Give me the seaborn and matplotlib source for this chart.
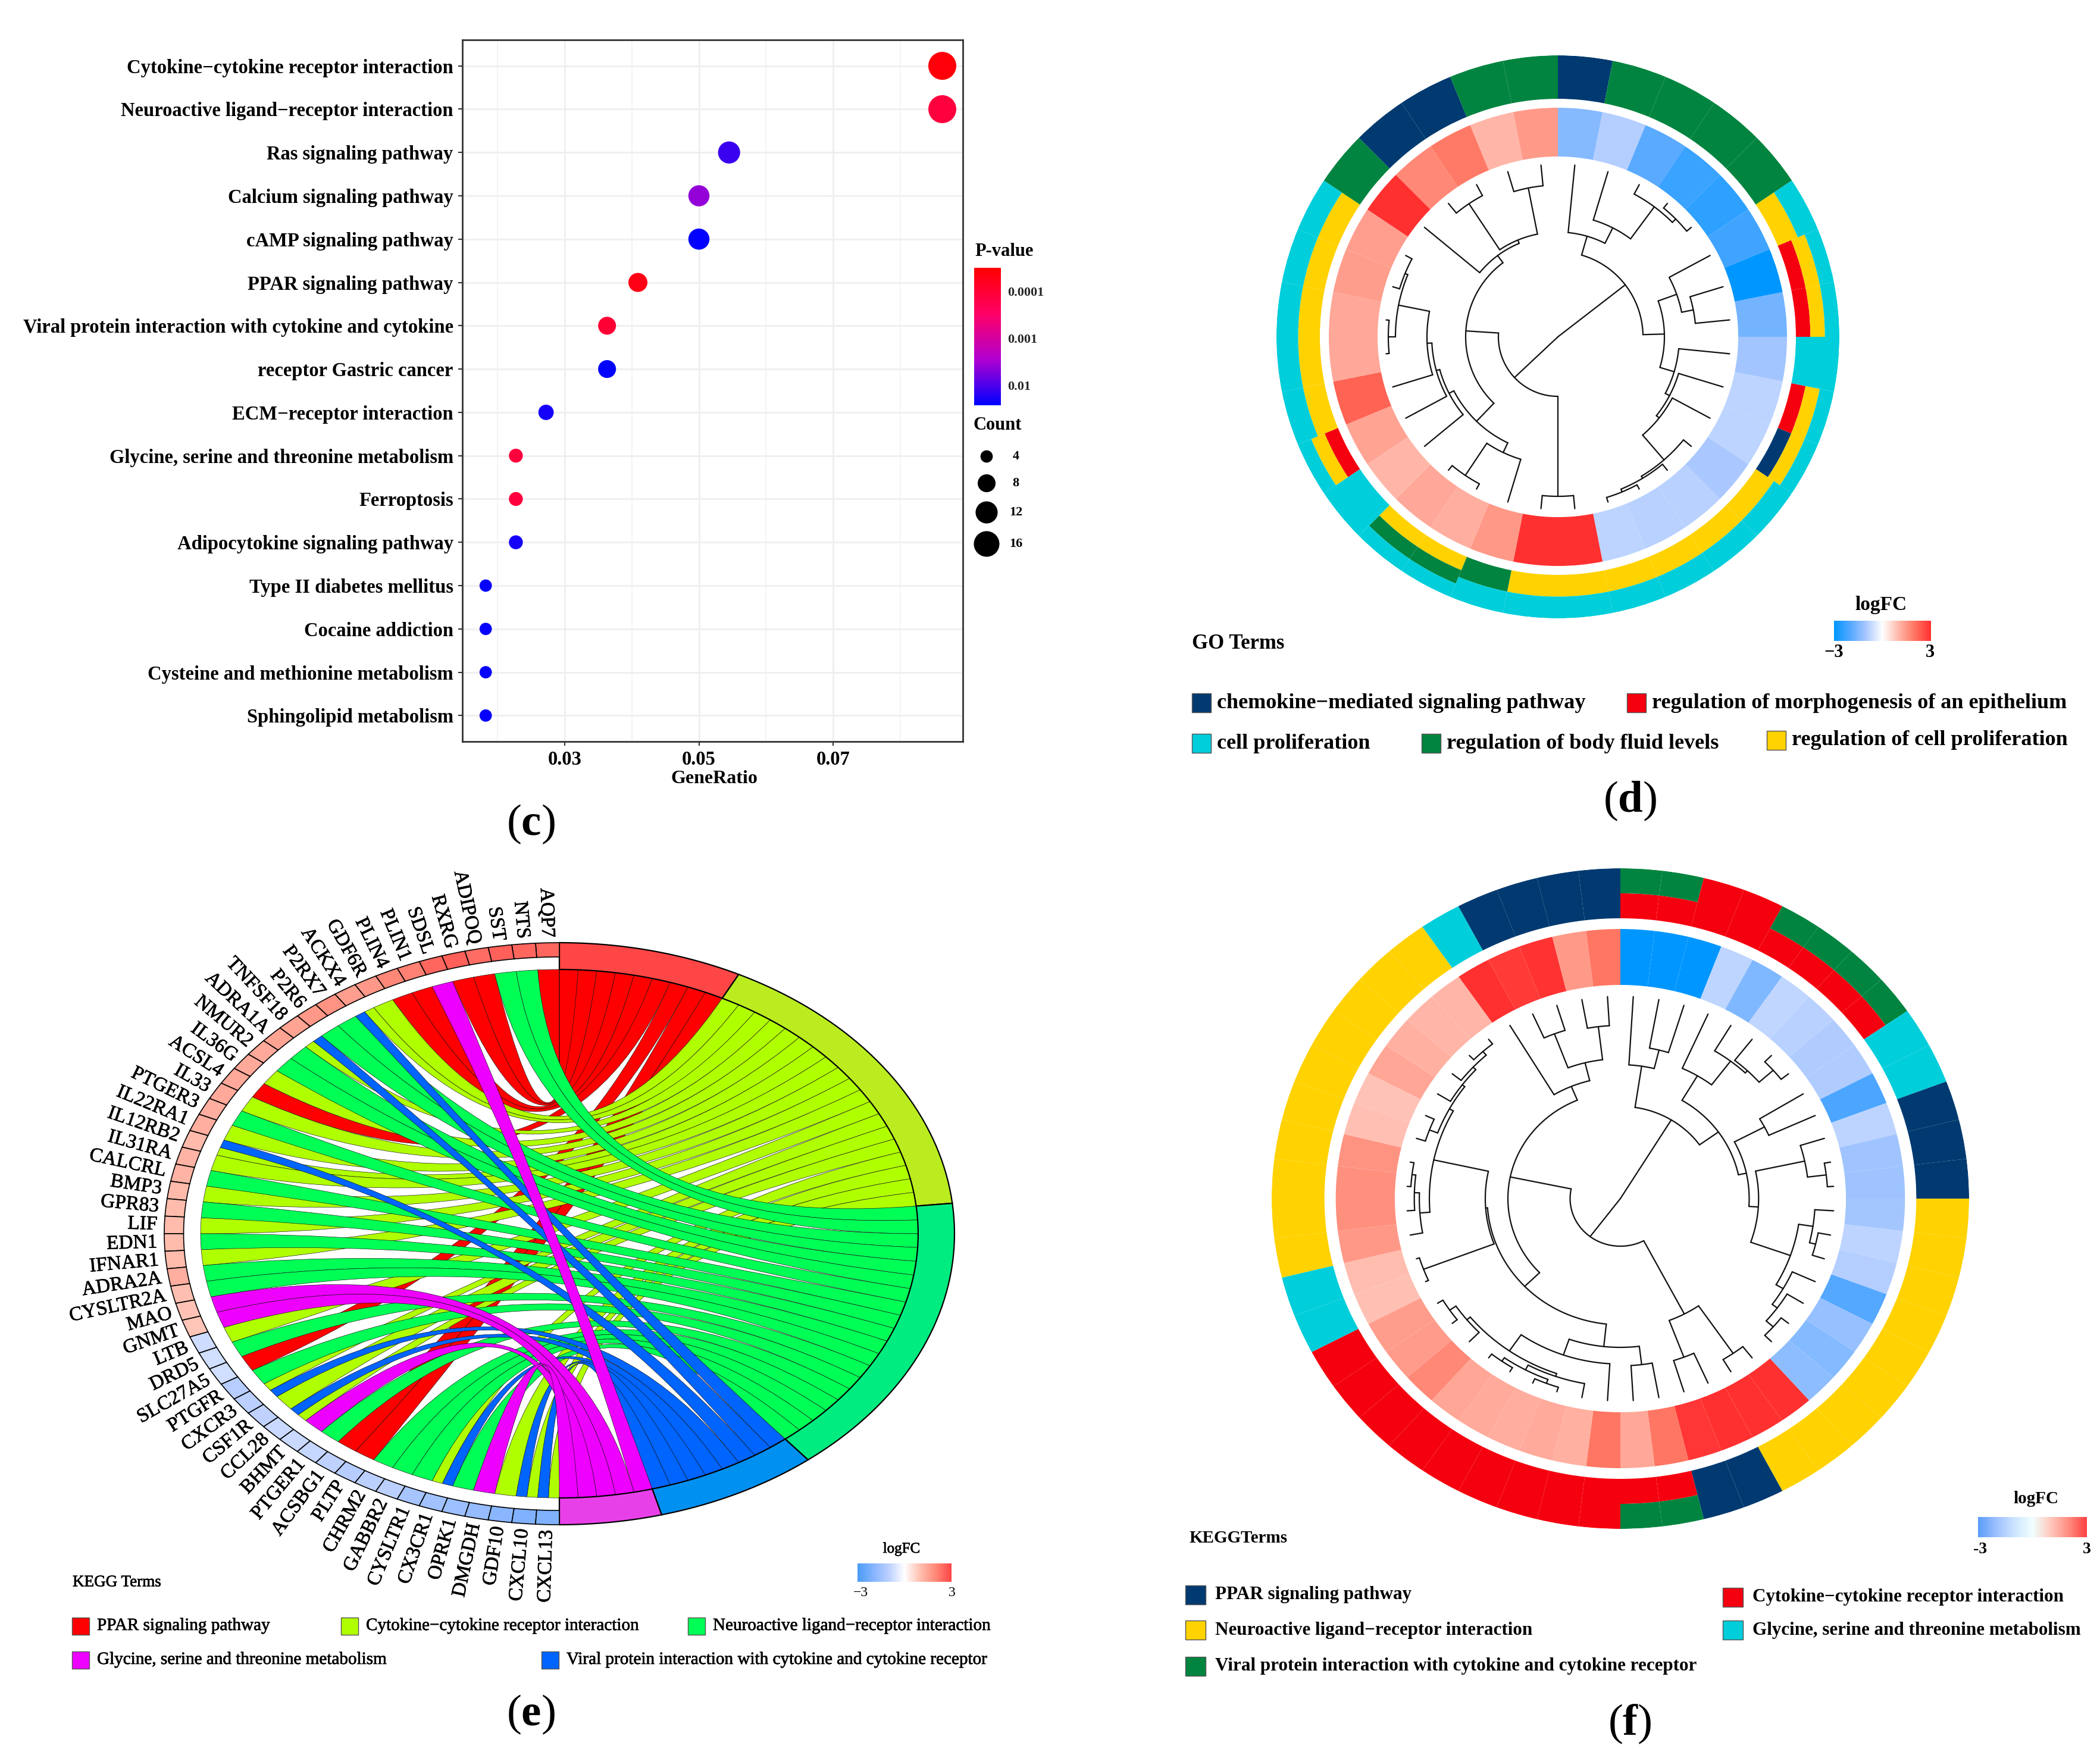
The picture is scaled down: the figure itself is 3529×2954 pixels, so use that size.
# %%
import numpy as np
import pandas as pd
import seaborn as sns
import matplotlib.pyplot as plt
import matplotlib.patheffects as pe
from matplotlib.cm import ScalarMappable
from matplotlib.colors import Normalize
from matplotlib.patches import PathPatch, Rectangle
from matplotlib.path import Path

W, H = 3530, 2954

# %%
# (c) KEGG bubble plot
terms_c = ["Cytokine\u2212cytokine receptor interaction", "Neuroactive ligand\u2212receptor interaction",
           "Ras signaling pathway", "Calcium signaling pathway", "cAMP signaling pathway",
           "PPAR signaling pathway", "Viral protein interaction with cytokine and cytokine",
           "receptor Gastric cancer", "ECM\u2212receptor interaction",
           "Glycine, serine and threonine metabolism", "Ferroptosis", "Adipocytokine signaling pathway",
           "Type II diabetes mellitus", "Cocaine addiction", "Cysteine and methionine metabolism",
           "Sphingolipid metabolism"]
gene_ratio = [0.0863, 0.0863, 0.0545, 0.05, 0.05, 0.0409, 0.0363, 0.0363, 0.0272, 0.0227, 0.0227, 0.0227,
              0.0182, 0.0182, 0.0182, 0.0182]
counts_c = [19, 19, 12, 11, 11, 9, 8, 8, 6, 5, 5, 5, 4, 4, 4, 4]
log_p = [-4.4, -3.9, -1.9, -2.4, -1.6, -4.3, -4.0, -1.6, -1.7, -3.9, -3.9, -1.7, -1.62, -1.62, -1.62, -1.62]

# (d) GO circular heatmap, clockwise from the top
logfc_d = [-1.42, -0.87, -1.94, -2.3, -2.46, -2.25, -3, -1.64, -1.08, -0.79, -0.79, -1.0, -0.83, -0.83, -0.79, 3,
           3, 1.46, 1.14, 1.23, 1.03, 1.29, 2.23, 1.23, 1.23, 1.39, 1.36, 3, 1.7, 1.9, 1.03, 1.43]
terms_d = ["N", "G", "G", "G", "G", "YC", "RYC", "RYC", "C", "RYC", "NYC", "YC", "YC", "YC", "YC", "YC",
           "YC", "GC", "YGC", "YGC", "C", "RYC", "YC", "YC", "YC", "YC", "YC", "G", "N", "N", "G", "G"]
tree_d = (0,
          (143,
           (176, 0, (205, 1, (272, 2, (280, 3, 4)))),
           (179,
            (212, 5, (232, 6, 7)),
            (204, 8, (212, 9, (218, 10, (273, 11, (277, 12, (282, 13, 14)))))))),
          (100,
           (268, 15, 16),
           (155,
            (197,
             (215, 17, (280, 18, 19)),
             (206, 20, (212, 21, (220, 22, (273, (285, 23, 24), (278, 25, 26)))))),
            (170, 27, (176, (269, 28, 29), (255, 30, 31))))))

# (f) KEGG circular heatmap, clockwise from the top
logfc_f = [-3, -3, -3, -0.76, -1.49, -0.75, -0.83, -0.93, -0.93, -2.1, -0.79, -1.12, -1.13,
           -1.07, -0.79, -0.88, -2.0, -1.23, -1.44, -1.32, 3, 3, 3, 2.9, 1.96, 1.23,
           1.96, 1.12, 1.2, 1.16, 1.2, 1.25, 1.69, 1.41, 1.39, 0.88, 0.93, 1.46, 1.58,
           1.58, 1.54, 0.91, 0.85, 1.25, 1.12, 1.03, 1.03, 3, 2.85, 2.95, 1.43, 1.96]
terms_f = ["RG", "RG", "R", "R", "RG", "RG", "RG", "RG", "C", "C", "N", "N", "N",
           "Y", "Y", "Y", "Y", "Y", "Y", "Y", "Y", "Y", "N", "N", "RG", "RG",
           "R", "R", "R", "R", "R", "R", "R", "R", "R", "C", "C", "Y", "Y",
           "Y", "Y", "Y", "Y", "Y", "Y", "Y", "Y", "C", "N", "N", "N", "N"]
tree_f = (0,
          (155,
           (225, 0, (257, 1, 2)),
           (192,
            (240, 3, (290, 4, (295, 5, (325, 6, 7)))),
            (205,
             (259, 8, 9),
             (220,
              (300, 10, (330, 11, 12)),
              (287,
               (310, 13, (320, 14, 15)),
               (300, 16, (310, 17, (325, 18, 19)))))))),
          (80,
           (219, (316, 20, 21), (285, 22, 23)),
           (179,
            (212,
             (250,
              (281, 24, 25),
              (278, 26,
               (311,
                (316, 27, (325, (332, 28, 29), (332, 30, 31))),
                (318, 32, (330, 33, 34))))),
             (215,
              (335, 35, 36),
              (304,
               (320, 37, (328, 38, (334, 39, 40))),
               (311, (325, 41, 42), (316, 43, (322, 44, (330, 45, 46))))))),
            (204, 47, (235, (296, 48, 49), (291, 50, 51))))))

# (e) chord diagram, genes anticlockwise from the top
genes_e = ["AQP7", "NTS", "SST", "ADIPOQ", "RXRG", "SDSL", "PLIN1", "PLIN4", "GDF6R", "ACKX4", "P2RX7", "P2R6",
           "TNFSF18", "ADRA1A", "NMUR2", "IL36G", "ACSL4", "IL33", "PTGER3", "IL22RA1", "IL12RB2", "IL31RA",
           "CALCRL", "BMP3", "GPR83", "LIF", "EDN1", "IFNAR1", "ADRA2A", "CYSLTR2A", "MAO", "GNMT", "LTB", "DRD5",
           "SLC27A5", "PTGFR", "CXCR3", "CSF1R", "CCL28", "BHMT", "PTGER1", "ACSBG1", "PLTP", "CHRM2", "GABBR2",
           "CYSLTR1", "CX3CR1", "OPRK1", "DMGDH", "GDF10", "CXCL10", "CXCL13"]
logfc_e = [2.5, 2.5, 2.6, 2.4, 2.6, 2.5, 2.1, 2.0, 1.7, 1.6, 1.8, 1.7, 1.5, 1.5, 1.4, 1.4, 1.4, 1.4, 1.3, 1.3,
           1.1, 1.2, 1.2, 1.1, 1.05, 1.05, 1.05, 1.05, 1.3, 1.0, 0.95, 0.9,
           -0.75, -0.7, -0.7, -1.1, -1.0, -0.95, -0.8, -0.8, -0.85, -0.95, -1.1, -1.0, -1.0, -1.4, -1.5, -1.6,
           -1.7, -1.9, -2.1, -2.1]
links_e = ["P", "N", "N", "P", "P", "G", "P", "P", "C", "CV", "N", "N",
           "VC", "N", "N", "C", "P", "C", "N", "C", "VC", "C",
           "N", "C", "N", "C", "N", "C", "N", "N", "G", "G", "C", "N",
           "P", "N", "CV", "C", "VC", "G", "N", "P", "P", "N", "N",
           "N", "CV", "N", "G", "C", "VC", "VC"]
term_order_e = ["P", "C", "N", "V", "G"]

# legends
go_terms = ["chemokine\u2212mediated signaling pathway", "regulation of morphogenesis of an epithelium",
            "cell proliferation", "regulation of body fluid levels", "regulation of cell proliferation"]
kegg_terms = ["PPAR signaling pathway", "Cytokine\u2212cytokine receptor interaction",
              "Neuroactive ligand\u2212receptor interaction", "Glycine, serine and threonine metabolism",
              "Viral protein interaction with cytokine and cytokine receptor"]

ring_colors = {"N": "#003A70", "G": "#00843F", "C": "#00CEDB", "Y": "#FFD200", "R": "#F5000F"}
link_colors = {"P": "#FF0000", "C": "#B0FF00", "N": "#00FF55", "V": "#0064FF", "G": "#EE00FF"}
sector_colors = {"P": "#FF4646", "C": "#BAEC20", "N": "#00EC80", "V": "#0090F0", "G": "#E840E8"}

# %%
sns.set_theme(style="white")
plt.rcParams["font.family"] = ["Liberation Serif", "DejaVu Serif"]
plt.rcParams["mathtext.fontset"] = "custom"
plt.rcParams["mathtext.rm"] = "Liberation Serif"
plt.rcParams["mathtext.bf"] = "Liberation Serif:bold"

fig = plt.figure(figsize=(W / 100, H / 100), dpi=100, facecolor="white")


def px_axes(x, y, w, h, **kw):
    return fig.add_axes([x / W, 1 - (y + h) / H, w / W, h / H], **kw)


# overlay in pixel coordinates for all the free text and swatches
top = px_axes(0, 0, W, H, zorder=10)
top.set_xlim(0, W)
top.set_ylim(H, 0)
top.axis("off")
top.patch.set_alpha(0)

heavier = [pe.withStroke(linewidth=0.5, foreground="black")]


def label(x, y, s, size=26, weight="bold", ha="left", thick=False):
    t = top.text(x, y, s, fontsize=size, fontweight=weight, ha=ha, va="center", color="black")
    if thick:
        t.set_path_effects(heavier)


def swatch(x, y, w, h, color):
    top.add_patch(Rectangle((x, y - h / 2), w, h, facecolor=color, edgecolor="#555555", lw=1))


def gradient_bar(x, y, w, h, cmap):
    cax = px_axes(x, y, w, h)
    cb = fig.colorbar(ScalarMappable(Normalize(-3, 3), cmap), cax=cax, orientation="horizontal")
    cb.set_ticks([])
    cb.outline.set_visible(False)


def panel_letter(x, y, letter):
    top.text(x, y, "($\\mathbf{" + letter + "}$)", fontsize=54, ha="center", va="center", color="black")


logfc_cmap = sns.blend_palette(["#0096FF", "#55A8FF", "#AAC8FF", "#FFFFFF", "#FFB8AA", "#FF7460", "#FF3030"],
                               as_cmap=True)
logfc_cmap_e = sns.blend_palette(["#4A9CF5", "#86B4FF", "#BCD0FF", "#FFFFFF", "#FFBFB0", "#FF8878", "#FF4545"],
                                 as_cmap=True)
logfc_cmap_f = sns.blend_palette(["#5A9CF8", "#9CC0FF", "#CCE4FF", "#F0FFFF", "#FFC8BE", "#FF8C80", "#FF4040"],
                                 as_cmap=True)
pvalue_cmap = sns.blend_palette(["#FF0000", "#FF0066", "#B000D0", "#0000FF"], as_cmap=True)

# %%
# Panel c
df_c = pd.DataFrame({"Term": terms_c, "GeneRatio": gene_ratio, "Count": counts_c, "logP": log_p})
ax = px_axes(777, 67, 841, 1179)
ax.set_axisbelow(True)
sns.scatterplot(data=df_c, x="GeneRatio", y="Term", hue="logP", size="Count", palette=pvalue_cmap,
                hue_norm=(-4.5, -1.58), sizes=(222, 1145), size_norm=(4, 19), linewidth=0, legend=False,
                ax=ax, zorder=3)
ax.set_xlim(0.01472, 0.08936)
ax.set_ylim(15.6, -0.6)
ax.set_xticks([0.03, 0.05, 0.07])
ax.set_xticklabels(["0.03", "0.05", "0.07"])
ax.set_xticks([0.02, 0.04, 0.06, 0.08], minor=True)
ax.grid(True, which="major", color="#EFEFEF", lw=2.0)
ax.grid(True, which="minor", axis="x", color="#F3F3F3", lw=1.3)
ax.tick_params(axis="both", which="major", length=5, width=1.5, color="#333333", bottom=True, left=True,
               labelsize=23.5, pad=6)
ax.tick_params(axis="x", which="minor", length=0)
for t in ax.get_xticklabels() + ax.get_yticklabels():
    t.set_fontweight("bold")
    t.set_color("black")
ax.set_xlabel("")
ax.set_ylabel("")
for s in ax.spines.values():
    s.set_visible(True)
    s.set_color("#333333")
    s.set_linewidth(2.0)

label(1200, 1309, "GeneRatio", size=23, ha="center")
label(1638, 423, "P-value", size=22)
cax = px_axes(1637, 450, 45, 231)
cb = fig.colorbar(ScalarMappable(Normalize(-4.5, -1.58), pvalue_cmap), cax=cax)
cax.invert_yaxis()
cb.set_ticks([-4, -3, -2])
cb.set_ticklabels(["0.0001", "0.001", "0.01"])
cb.outline.set_visible(False)
cax.tick_params(length=6, width=1, color="white", direction="in", labelsize=16, pad=8)
for t in cax.get_yticklabels():
    t.set_fontweight("bold")

label(1636, 715, "Count", size=22)
leg_counts = [4, 8, 12, 16]
ax_leg = px_axes(1630, 740, 56, 200)
df_leg = pd.DataFrame({"x": [0, 0, 0, 0], "y": [27, 72, 121, 174], "Count": leg_counts})
sns.scatterplot(data=df_leg, x="x", y="y", size="Count", sizes=(222, 1145), size_norm=(4, 19), color="black",
                linewidth=0, legend=False, ax=ax_leg)
ax_leg.set_xlim(-1, 1)
ax_leg.set_ylim(200, 0)
ax_leg.axis("off")
for yy, c in zip([767, 812, 861, 914], leg_counts):
    label(1707, yy, str(c), size=16, ha="center")
panel_letter(892, 1385, "c")


# %%
# Helpers for the circular heatmaps
def draw_tree(ax, node, n, leaf_r):
    # node is (height, left, right), a plain int is a leaf
    if isinstance(node, int):
        return (node + 0.5) * 2 * np.pi / n, leaf_r
    r, left, right = node
    kids = [draw_tree(ax, k, n, leaf_r) for k in (left, right)]
    th = np.linspace(kids[0][0], kids[1][0], 60)
    ax.plot(th, np.full(60, r), color="#111111", lw=1.6, solid_capstyle="round")
    for kid_th, kid_r in kids:
        ax.plot([kid_th, kid_th], [r, kid_r], color="#111111", lw=1.6, solid_capstyle="round")
    return th.mean(), r


def ring_heatmap(cx, cy, rx, ry, values, terms, tree, radii, cmap):
    track_out, track_in, heat_out, heat_in, leaf_r = radii
    pax = px_axes(cx - rx, cy - ry, 2 * rx, 2 * ry, projection="polar")
    pax.set_aspect("auto")
    pax.set_theta_zero_location("N")
    pax.set_theta_direction(-1)
    n = len(values)
    step = 2 * np.pi / n
    norm = Normalize(-3, 3)
    for i, (v, t) in enumerate(zip(values, terms)):
        pax.bar(i * step, heat_out - heat_in, width=step, bottom=heat_in, align="edge",
                color=cmap(norm(v)), lw=0)
        part = (track_out - track_in) / len(t)
        for j, code in enumerate(t):
            pax.bar(i * step, part, width=step, bottom=track_in + j * part, align="edge",
                    color=ring_colors[code], lw=0)
    draw_tree(pax, tree, n, leaf_r)
    pax.set_ylim(0, track_out)
    pax.axis("off")
    return pax


# %%
# Panel d
ring_heatmap(2618, 566, 473, 473, logfc_d, terms_d, tree_d, (473, 400, 385, 303, 290), logfc_cmap)
label(3161, 1016, "logFC", size=24, ha="center")
gradient_bar(3082, 1043, 163, 34, logfc_cmap)
label(3082, 1097, "\u22123", size=22, ha="center")
label(3243, 1097, "3", size=22, ha="center")
label(2003, 1082, "GO Terms", size=25)
for x, y, term, code in [(2003, 1181, go_terms[0], "N"), (2734, 1181, go_terms[1], "R"),
                         (2003, 1249, go_terms[2], "C"), (2389, 1249, go_terms[3], "G"),
                         (2969, 1244, go_terms[4], "Y")]:
    swatch(x, y, 32, 32, ring_colors[code])
    label(x + 42, y, term, size=26)
panel_letter(2739, 1346, "d")

# %%
# Panel f
ring_heatmap(2723, 2014, 586, 555, logfc_f, terms_f, tree_f, (555, 471, 453, 359, 340), logfc_cmap)
label(3421, 2518, "logFC", size=21, ha="center")
gradient_bar(3324, 2549, 183, 34, logfc_cmap_f)
label(3328, 2603, "-3", size=20, ha="center")
label(3507, 2603, "3", size=20, ha="center")
label(1999, 2585, "KEGGTerms", size=21)
for x, y, term, code in [(1992, 2680, kegg_terms[0], "N"), (2895, 2684, kegg_terms[1], "R"),
                         (1992, 2739, kegg_terms[2], "Y"), (2895, 2739, kegg_terms[3], "C"),
                         (1992, 2800, kegg_terms[4], "G")]:
    swatch(x, y, 34, 32, ring_colors[code])
    label(x + 50, y, term, size=22.4)
panel_letter(2739, 2897, "f")

# %%
# Panel e, the chord diagram lives in unit coordinates stretched to an ellipse
cx_e, cy_e, rx_e, ry_e = 940, 2073, 664, 489
ax_e = px_axes(cx_e - rx_e * 1.02, cy_e - ry_e * 1.02, 2.04 * rx_e, 2.04 * ry_e)
ax_e.set_xlim(-1.02, 1.02)
ax_e.set_ylim(-1.02, 1.02)
ax_e.axis("off")


def pol(r, deg):
    # degrees clockwise from the top, negative values go anticlockwise
    a = np.radians(deg)
    return np.column_stack([r * np.sin(a), r * np.cos(a)])


def ring_piece(ax, r0, r1, d0, d1, color, lw=1.0):
    th = np.linspace(d0, d1, 40)
    xy = np.vstack([pol(r1, th), pol(r0, th[::-1])])
    ax.fill(xy[:, 0], xy[:, 1], facecolor=color, edgecolor="black", lw=lw, zorder=5)


def ribbon(ax, g0, g1, t0, t1, color):
    # g0 pairs with t0 and g1 with t1, otherwise the band twists in the middle
    r = 0.908
    gene_arc = pol(r, np.linspace(g1, g0, 12))
    term_arc = pol(r, np.linspace(t0, t1, 12))
    verts = list(map(tuple, gene_arc)) + [(0, 0), tuple(term_arc[0])] + list(map(tuple, term_arc[1:])) + \
        [(0, 0), tuple(gene_arc[0]), tuple(gene_arc[0])]
    codes = [Path.MOVETO] + [Path.LINETO] * 11 + [Path.CURVE3, Path.CURVE3] + [Path.LINETO] * 11 + \
        [Path.CURVE3, Path.CURVE3, Path.CLOSEPOLY]
    ax.add_patch(PathPatch(Path(verts, codes), facecolor=color, edgecolor="#111111", lw=0.45))


n_genes = len(genes_e)
gene_step = 180 / n_genes
n_links = sum(len(s) for s in links_e)
link_step = 180 / n_links
norm_e = Normalize(-3, 3)

# term sectors on the right half
term_start = {}
start = 0.0
for code in term_order_e:
    cnt = sum(s.count(code) for s in links_e)
    term_start[code] = start
    ring_piece(ax_e, 0.908, 1.0, start, start + cnt * link_step, sector_colors[code], lw=1.6)
    start += cnt * link_step

# ribbons are drawn term by term so later terms lie on top
for code in term_order_e:
    pos = term_start[code]
    for i, s in enumerate(links_e):
        if code not in s:
            continue
        k = s.index(code)
        part = gene_step / len(s)
        g0 = -(i * gene_step + k * part)
        ribbon(ax_e, g0, g0 - part, pos, pos + link_step, link_colors[code])
        pos += link_step

# gene sectors and names on the left half
for i, (g, v) in enumerate(zip(genes_e, logfc_e)):
    ring_piece(ax_e, 0.951, 1.0, -i * gene_step, -(i + 1) * gene_step, logfc_cmap_e(norm_e(v)), lw=1.2)
    mid = (i + 0.5) * gene_step
    p = pol(1.018, -mid)[0]
    t = ax_e.text(p[0], p[1], g, rotation=mid - 90, rotation_mode="anchor", ha="right", va="center",
                  fontsize=24, color="black", zorder=6)
    t.set_path_effects(heavier)

label(1515, 2603, "logFC", size=18, weight="normal", ha="center", thick=True)
gradient_bar(1441, 2627, 158, 31, logfc_cmap_e)
label(1446, 2677, "\u22123", size=17, weight="normal", ha="center")
label(1600, 2677, "3", size=17, weight="normal", ha="center")
label(122, 2659, "KEGG Terms", size=19.5, weight="normal", thick=True)
for x, y, term, code in [(121, 2732, kegg_terms[0], "P"), (573, 2732, kegg_terms[1], "C"),
                         (1156, 2732, kegg_terms[2], "N"), (121, 2789, kegg_terms[3], "G"),
                         (910, 2789, kegg_terms[4], "V")]:
    swatch(x, y, 29, 29, link_colors[code])
    label(x + 42, y, term, size=21, weight="normal", thick=True)
panel_letter(892, 2881, "e")

fig.savefig("out.png", dpi=100, facecolor="white")
